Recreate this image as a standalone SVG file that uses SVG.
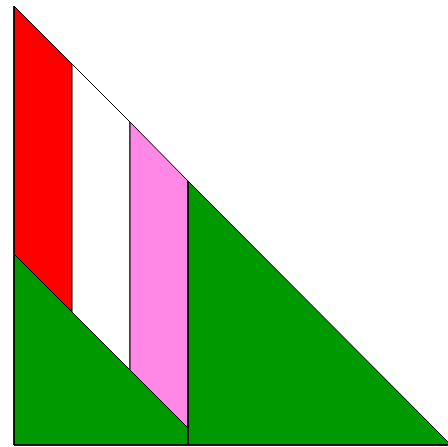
<svg xmlns="http://www.w3.org/2000/svg" width="448" height="447" viewBox="0 0 448 447">
<style>
.s{stroke:#000;stroke-width:1;stroke-linejoin:miter}
</style>
<rect width="448" height="447" fill="#fff"/>
<g id="red"><polygon class="s" fill="#ff0000" points="14,6 72,64 72,312 14,254"/></g>
<g id="white"><polygon class="s" fill="#ffffff" points="72,64 130,122 130,370 72,312"/></g>
<g id="pink"><polygon class="s" fill="#ff88e6" points="130,122 188,181 188,428 130,370"/></g>
<g id="green-left"><polygon class="s" fill="#009900" points="14,254 188,428 188,445 14,445"/></g>
<g id="green-right"><polygon class="s" fill="#009900" points="188,181 451,445 188,445"/></g>
<g id="outline" fill="none" stroke="#000">
<line x1="14" y1="6" x2="14" y2="445" stroke-width="1.5"/>
<line x1="14" y1="445" x2="451" y2="445" stroke-width="1.5"/>
<line x1="188" y1="181" x2="188" y2="445" stroke-width="1.5"/>
</g>
</svg>
